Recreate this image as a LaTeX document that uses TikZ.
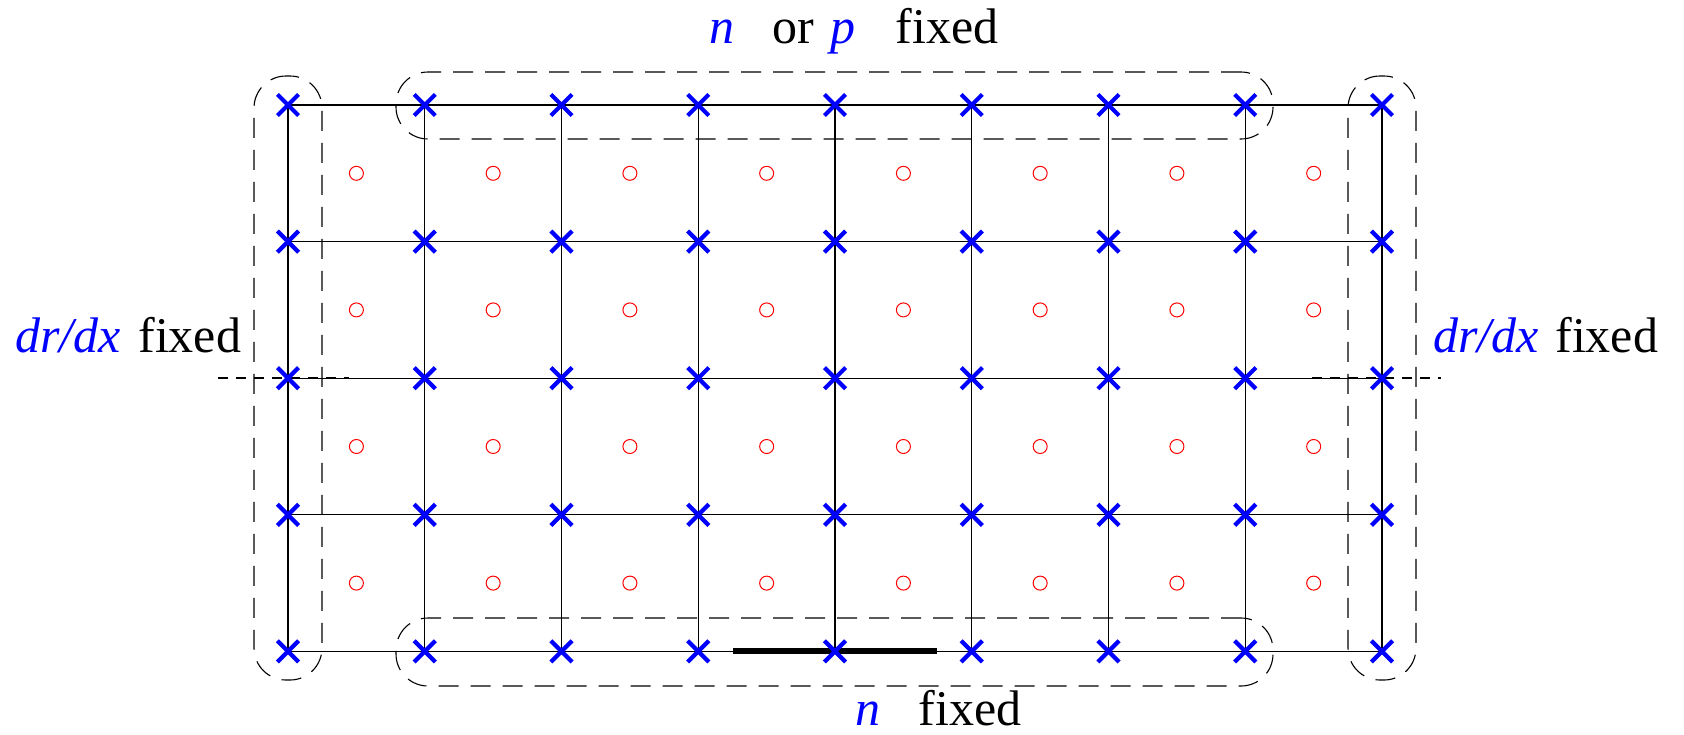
\documentclass[tikz,border=0pt]{standalone}
\usepackage{fontspec}
\setmainfont{Liberation Serif}[ItalicFont={Liberation Serif Italic},BoldFont={Liberation Serif Bold}]
\usetikzlibrary{shapes.misc,fit}
\begin{document}
\begin{tikzpicture}[x=0.5pt,y=-0.5pt,
  xmark/.style={cross out, draw=blue, line width=2.1pt, minimum size=8.5pt, inner sep=0pt},
  cell/.style={circle, draw=red, line width=0.5pt, minimum size=7pt, inner sep=0pt},
  gridline/.style={line width=0.55pt, black},
  groupbox/.style={draw=black, dash pattern=on 10pt off 6pt, line width=0.55pt, rounded corners=16pt, inner sep=0pt},
  midline/.style={dash pattern=on 5pt off 4pt, line width=0.9pt},
  thickline/.style={line width=3pt},
  lbl/.style={font=\fontsize{25}{30}\selectfont, inner sep=0pt, anchor=base},
  lblw/.style={font=\fontsize{25}{30}\selectfont, inner sep=0pt, anchor=base west}]
\useasboundingbox (0,0) rectangle (1684,734);
% grid coordinates
\foreach \i in {0,...,8} {
  \foreach \j in {0,...,4} {
    \coordinate (g-\i-\j) at ({288+136.75*\i},{105+136.6*\j});
  }
}
% grid lines
\foreach \j in {0,...,4} { \draw[gridline] (g-0-\j) -- (g-8-\j); }
\foreach \i in {0,...,8} { \draw[gridline] (g-\i-0) -- (g-\i-4); }
% cell centres
\foreach \i in {0,...,7} {
  \foreach \j in {0,...,3} {
    \node[cell] (c-\i-\j) at ({288+136.75*\i+68.4},{105+136.6*\j+68.3}) {};
  }
}
% dashed group boxes
\node[groupbox, fit={(254,76) (322,680)}] (leftbox) {};
\node[groupbox, fit={(1348,76) (1416,680)}] (rightbox) {};
\node[groupbox, fit={(396,72) (1273,139)}] (topbox) {};
\node[groupbox, fit={(396,618) (1273,686)}] (botbox) {};
% dashed middle markers
\coordinate (ml-a) at (218,378);
\coordinate (ml-b) at (349,378);
\coordinate (mr-a) at (1312,378);
\coordinate (mr-b) at (1441,378);
\draw[midline] (ml-a) -- (ml-b);
\draw[midline] (mr-a) -- (mr-b);
% thick contact line
\coordinate (tl-a) at (733,651);
\coordinate (tl-b) at (937,651);
\draw[thickline] (tl-a) -- (tl-b);
% crosses
\foreach \i in {0,...,8} {
  \foreach \j in {0,...,4} {
    \node[xmark] (p-\i-\j) at (g-\i-\j) {};
  }
}
% labels
\node[lbl, text=blue] (t-n) at (722,43) {\itshape n};
\node[lbl] (t-or) at (793,43) {or};
\node[lbl, text=blue] (t-p) at (843,43) {\itshape p};
\node[lbl] (t-fixed) at (947,43) {fixed};
\node[lbl, text=blue] (b-n) at (868,725) {\itshape n};
\node[lbl] (b-fixed) at (970,725) {fixed};
\node[lblw, text=blue] (l-dr) at (15,352) {\itshape dr/dx};
\node[lblw] (l-fixed) at (138,352) {fixed};
\node[lblw, text=blue] (r-dr) at (1433,352) {\itshape dr/dx};
\node[lblw] (r-fixed) at (1555,352) {fixed};
\end{tikzpicture}
\end{document}
